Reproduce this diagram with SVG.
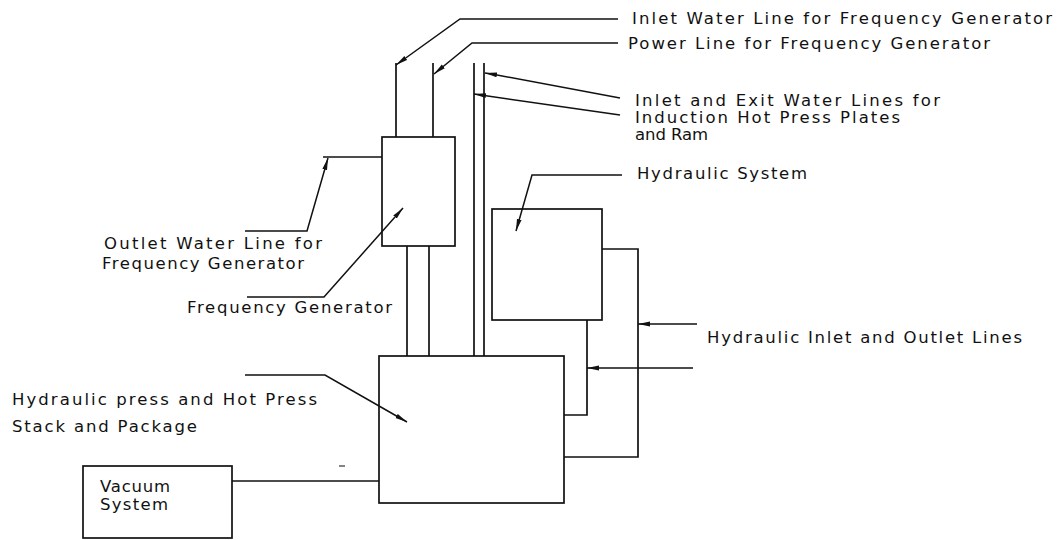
<svg xmlns="http://www.w3.org/2000/svg" width="1060" height="540" viewBox="0 0 1060 540">
<style>
.ln{fill:none;stroke:#111;stroke-width:1.7;stroke-linejoin:miter}
.ld{fill:none;stroke:#111;stroke-width:1.5;marker-end:url(#ah)}
.bx{fill:none;stroke:#111;stroke-width:1.7}
text{font-family:"DejaVu Sans","Liberation Sans",sans-serif;font-size:16.5px;fill:#111}
</style>
<defs>
<marker id="ah" viewBox="0 0 12 6" refX="12" refY="3" markerWidth="12" markerHeight="6" markerUnits="userSpaceOnUse" orient="auto">
<path d="M0,0.6 L12,3 L0,5.4 Z" fill="#111"/>
</marker>
</defs>
<rect width="1060" height="540" fill="#fff"/>
<g id="frequency-generator">
<rect class="bx" x="382" y="137" width="73" height="109"/>
</g>
<g id="hydraulic-system">
<rect class="bx" x="492" y="209" width="110" height="111"/>
</g>
<g id="hydraulic-press">
<rect class="bx" x="379" y="356" width="185" height="147"/>
</g>
<g id="vacuum-system">
<rect class="bx" x="83" y="466" width="149" height="72"/>
<text x="100" y="492" textLength="70" lengthAdjust="spacing">Vacuum</text>
<text x="100" y="510" textLength="68" lengthAdjust="spacing">System</text>
</g>
<g id="connectors">
<line class="ln" x1="396" y1="63" x2="396" y2="137"/>
<line class="ln" x1="433" y1="63" x2="433" y2="137"/>
<line class="ln" x1="474" y1="63" x2="474" y2="356"/>
<line class="ln" x1="484" y1="63" x2="484" y2="356"/>
<line class="ln" x1="407" y1="246" x2="407" y2="356"/>
<line class="ln" x1="429" y1="246" x2="429" y2="356"/>
<line class="ln" x1="323" y1="157" x2="382" y2="157"/>
<polyline class="ln" points="602,249 638,249 638,457 564,457"/>
<polyline class="ln" points="587,320 587,415 564,415"/>
<line class="ln" x1="232" y1="481" x2="379" y2="481"/>
<polyline class="ld" points="618,19 460,19 396,65"/>
<polyline class="ld" points="618,43 472,43 434,74"/>
<polyline class="ld" points="620,98 497,75 485,73"/>
<polyline class="ld" points="620,115 474,94"/>
<polyline class="ld" points="245,231 307,231 328,158"/>
<polyline class="ld" points="247,297 324,297 403,208"/>
<polyline class="ld" points="622,175 532,175 516,231"/>
<polyline class="ld" points="697,324 638,324"/>
<polyline class="ld" points="693,368 587,368"/>
<polyline class="ld" points="245,375 325,375 407,422"/>
<line x1="339" y1="466" x2="345" y2="466" stroke="#333" stroke-width="1.2"/>
</g>
<g id="labels">
<text x="632" y="24" textLength="420" lengthAdjust="spacing">Inlet Water Line for Frequency Generator</text>
<text x="628" y="49" textLength="362" lengthAdjust="spacing">Power Line for Frequency Generator</text>
<text x="635" y="106" textLength="305" lengthAdjust="spacing">Inlet and Exit Water Lines for</text>
<text x="635" y="123" textLength="265" lengthAdjust="spacing">Induction Hot Press Plates</text>
<text x="635" y="140" textLength="73" lengthAdjust="spacing">and Ram</text>
<text x="637" y="179" textLength="170" lengthAdjust="spacing">Hydraulic System</text>
<text x="707" y="343" textLength="315" lengthAdjust="spacing">Hydraulic Inlet and Outlet Lines</text>
<text x="104" y="249" textLength="218" lengthAdjust="spacing">Outlet Water Line for</text>
<text x="102" y="269" textLength="202" lengthAdjust="spacing">Frequency Generator</text>
<text x="187" y="313" textLength="205" lengthAdjust="spacing">Frequency Generator</text>
<text x="12" y="405" textLength="305" lengthAdjust="spacing">Hydraulic press and Hot Press</text>
<text x="12" y="432" textLength="185" lengthAdjust="spacing">Stack and Package</text>
</g>
</svg>
